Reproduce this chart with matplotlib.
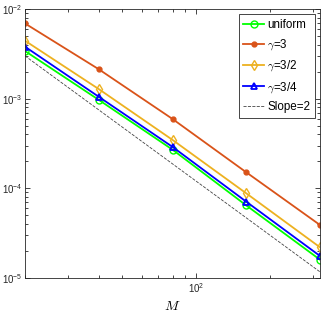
import numpy as np
import matplotlib
matplotlib.use('Agg')
import matplotlib.pyplot as plt

# data
M = [20, 40, 80, 160, 320]
err_uniform = [3.4e-3, 9.7e-4, 2.7e-4, 6.45e-5, 1.6e-5]
err_g3 = [6.9e-3, 2.13e-3, 5.94e-4, 1.51e-4, 3.9e-5]
err_g32 = [4.43e-3, 1.28e-3, 3.47e-4, 8.8e-5, 2.2e-5]
err_g34 = [3.8e-3, 1.05e-3, 2.9e-4, 7.1e-5, 1.76e-5]
slope2 = [3.0e-3, 7.5e-4, 1.875e-4, 4.69e-5, 1.17e-5]

plt.rcParams['font.family'] = ['Liberation Sans', 'DejaVu Sans']
plt.rcParams['mathtext.fontset'] = 'cm'

fig = plt.figure(figsize=(3.32, 3.16), dpi=100)
ax = fig.add_axes([25/332, 1 - 278/316, 295/332, 269/316])

ax.loglog(M, err_uniform, '-o', color='#00ff00', mfc='none', ms=5, lw=1.3, label='uniform')
ax.loglog(M, err_g3, '-o', color='#D95319', mfc='#D95319', ms=3.5, lw=1.3, label=r'$\gamma$=3')
ax.loglog(M, err_g32, '-d', color='#EDB120', mfc='none', ms=5, lw=1.3, label=r'$\gamma$=3/2')
ax.loglog(M, err_g34, '-^', color='#0000ff', mfc='none', ms=5, lw=1.3, mew=1.3, label=r'$\gamma$=3/4')
ax.loglog(M, slope2, '--', color='#444444', lw=0.6, label='Slope=2')

ax.set_xlim(20, 320)
ax.set_ylim(1e-5, 1e-2)
ax.tick_params(which='both', direction='in', top=True, right=True, colors='#262626',
               labelsize=7, width=0.6, pad=2)
ax.tick_params(which='major', length=3.5)
ax.tick_params(which='minor', length=2)
ax.xaxis.set_minor_formatter(matplotlib.ticker.NullFormatter())
for s in ax.spines.values():
    s.set_color('#262626')
    s.set_linewidth(0.6)

ax.set_xlabel(r'$M$', fontsize=10, labelpad=3)

leg = ax.legend(loc='upper right', fontsize=8.4,
                fancybox=False, framealpha=1,
                edgecolor='#262626', handlelength=1.8, handletextpad=0.25,
                borderpad=0.4, labelspacing=0.55, borderaxespad=0.45)
leg.get_frame().set_linewidth(0.6)

fig.savefig('out.png', dpi=100)
